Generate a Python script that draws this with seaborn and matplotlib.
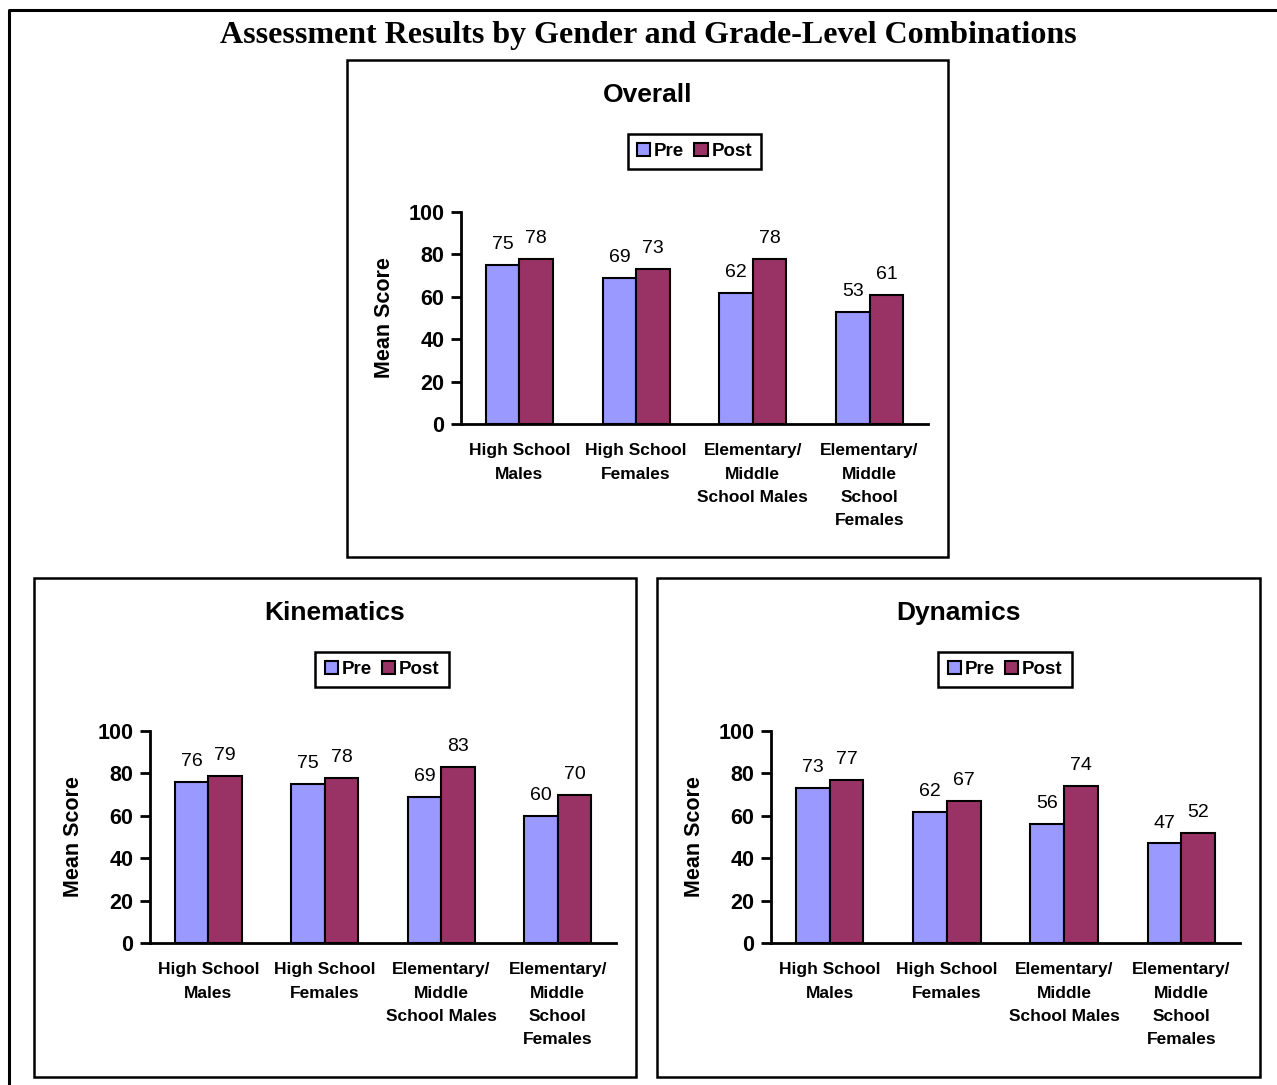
import matplotlib
matplotlib.use("Agg")
import matplotlib.pyplot as plt
from matplotlib.patches import Rectangle, Patch
from matplotlib.lines import Line2D
import pandas as pd
import seaborn as sns

# Categories and mean scores
groups = [
    "High School\nMales",
    "High School\nFemales",
    "Elementary/\nMiddle\nSchool Males",
    "Elementary/\nMiddle\nSchool\nFemales",
]
phases = ["Pre", "Post"]

overall_pre = [75, 69, 62, 53]
overall_post = [78, 73, 78, 61]
kinematics_pre = [76, 75, 69, 60]
kinematics_post = [79, 78, 83, 70]
dynamics_pre = [73, 62, 56, 47]
dynamics_post = [77, 67, 74, 52]

y_ticks = [0, 20, 40, 60, 80, 100]

pre_color = "#9999FF"
post_color = "#993366"

sns.set_style("ticks")
plt.rcParams["font.family"] = ["Liberation Sans", "DejaVu Sans"]
plt.rcParams.update({
    "text.color": "black",
    "axes.labelcolor": "black",
    "xtick.color": "black",
    "ytick.color": "black",
    "axes.edgecolor": "black",
})

W, H, DPI = 1277, 1085, 100
fig = plt.figure(figsize=(W / DPI, H / DPI), dpi=DPI)


def fx(x):
    return x / W


def fy(y):
    return 1 - y / H


def rect(l, t, r, b):
    return [fx(l), fy(b), (r - l) / W, (b - t) / H]


# Outer frame (open on the right and bottom)
fig.add_artist(Line2D([fx(9), fx(9), fx(1277)], [fy(1085), fy(10), fy(10)],
                      color="black", lw=2.2, transform=fig.transFigure))

fig.text(fx(648), fy(36), "Assessment Results by Gender and Grade-Level Combinations",
         ha="center", va="center", fontsize=23, fontweight="bold",
         color="black", family=["Liberation Serif", "DejaVu Serif"])


def panel(box, title, title_y, legend_center, axes_box, pre, post):
    l, t, r, b = box
    fig.add_artist(Rectangle((fx(l), fy(b)), (r - l) / W, (b - t) / H,
                             transform=fig.transFigure, fill=False,
                             edgecolor="black", lw=1.8))
    fig.text(fx((l + r) / 2), fy(title_y), title, ha="center", va="center",
             fontsize=19, fontweight="bold", color="black")

    df = pd.DataFrame({
        "group": groups * 2,
        "phase": ["Pre"] * 4 + ["Post"] * 4,
        "score": list(pre) + list(post),
    })
    ax = fig.add_axes(rect(*axes_box))
    sns.barplot(data=df, x="group", y="score", hue="phase", hue_order=phases,
                order=groups, palette=[pre_color, post_color], saturation=1,
                width=0.575, edgecolor="black", linewidth=1.5, ax=ax,
                legend=False)
    for cont in ax.containers:
        ax.bar_label(cont, fmt="{:.0f}", padding=8.5, fontsize=14, color="black")

    ax.set_xlim(-0.5, 3.5)
    ax.set_ylim(0, 100)
    ax.set_yticks(y_ticks)
    ax.set_yticklabels([str(v) for v in y_ticks], fontweight="bold", fontsize=15.5)
    ax.set_xticks(range(len(groups)))
    ax.set_xticklabels(groups, fontweight="bold", fontsize=12.5, linespacing=1.68,
                       va="top")
    ax.set_xlabel("")
    ax.set_ylabel("Mean Score", fontsize=15.5, fontweight="bold")
    ax.yaxis.set_label_coords(-66 / (axes_box[2] - axes_box[0]), 0.5)
    for s in ("top", "right"):
        ax.spines[s].set_visible(False)
    for s in ("left", "bottom"):
        ax.spines[s].set_linewidth(2)
        ax.spines[s].set_color("black")
    ax.tick_params(axis="y", direction="out", length=7, width=2, pad=5)
    ax.tick_params(axis="x", length=0, pad=14)

    handles = [Patch(facecolor=pre_color, edgecolor="black", lw=1.5),
               Patch(facecolor=post_color, edgecolor="black", lw=1.5)]
    leg = fig.legend(handles, phases, loc="center",
                     bbox_to_anchor=(fx(legend_center[0]), fy(legend_center[1])),
                     ncol=2, frameon=True, fancybox=False, shadow=False,
                     framealpha=1, handlelength=0.7, handleheight=0.7,
                     handletextpad=0.2, columnspacing=0.55, borderpad=0.5,
                     borderaxespad=0, prop={"weight": "bold", "size": 13.5})
    leg.get_frame().set_edgecolor("black")
    leg.get_frame().set_linewidth(1.8)
    return ax


panel((347, 60, 948, 557), "Overall", 95, (694.5, 151.5),
      (461, 212, 928, 424), overall_pre, overall_post)
panel((34, 578, 636, 1077), "Kinematics", 613, (382, 669.5),
      (150, 731, 616, 943), kinematics_pre, kinematics_post)
panel((657, 578, 1260, 1077), "Dynamics", 613, (1005, 669.5),
      (771, 731, 1240, 943), dynamics_pre, dynamics_post)

fig.savefig("out.png", dpi=DPI)
